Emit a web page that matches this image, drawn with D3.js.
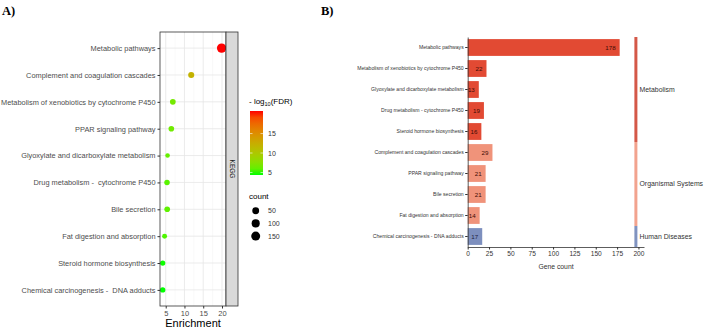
<!DOCTYPE html>
<html>
<head>
<meta charset="utf-8">
<script src="https://cdn.jsdelivr.net/npm/d3@7"></script>
<style>
  body { margin: 0; background: #fff; }
  svg { font-family: "Liberation Sans", Arial, sans-serif; }
  text { white-space: pre; }
</style>
</head>
<body>
<svg id="chart" width="709" height="329"></svg>
<script>
// ---- panel A data (dot plot) ----
let pathwaysA = ["Metabolic pathways", "Complement and coagulation cascades",
    "Metabolism of xenobiotics by cytochrome P450", "PPAR signaling pathway",
    "Glyoxylate and dicarboxylate metabolism", "Drug metabolism -  cytochrome P450",
    "Bile secretion", "Fat digestion and absorption", "Steroid hormone biosynthesis",
    "Chemical carcinogenesis -  DNA adducts"]
let enrichment = [19.9, 11.8, 6.9, 6.5, 5.5, 5.35, 5.4, 4.7, 4.2, 4.2]
let countA = [178, 29, 22, 21, 13, 19, 21, 14, 16, 17]
let fdr = [20.8, 12.0, 6.6, 6.4, 6.0, 5.6, 5.8, 5.3, 4.4, 4.35]
let enrichTicks = [5, 10, 15, 20]
let fdrTicks = [5, 10, 15]
let countLegend = [50, 100, 150]

// ---- panel B data (bar chart) ----
let pathwaysB = ["Metabolic pathways", "Metabolism of xenobiotics by cytochrome P450",
    "Glyoxylate and dicarboxylate metabolism", "Drug metabolism - cytochrome P450",
    "Steroid hormone biosynthesis", "Complement and coagulation cascades",
    "PPAR signaling pathway", "Bile secretion", "Fat digestion and absorption",
    "Chemical carcinogenesis - DNA adducts"]
let geneCount = [178, 22, 13, 19, 16, 29, 21, 21, 14, 17]
let classB = ["Metabolism", "Metabolism", "Metabolism", "Metabolism", "Metabolism",
    "Organismal Systems", "Organismal Systems", "Organismal Systems", "Organismal Systems",
    "Human Diseases"]
let classes = ["Metabolism", "Organismal Systems", "Human Diseases"]
let countTicks = [0, 25, 50, 75, 100, 125, 150, 175, 200]

let svg = d3.select("#chart")

function drawPanelA() {
    let data = pathwaysA.map((p, i) => ({p: p, e: enrichment[i], c: countA[i], f: fdr[i]}))
    let left = 160, right = 226, top = 32, bottom = 306

    let x = d3.scaleLinear().domain([3.48, 21.07]).range([left, right])
    let y = d3.scalePoint().domain(pathwaysA).range([top, bottom]).padding(0.6)
    let color = d3.scaleLinear().domain(d3.extent(fdr)).range(["#00ff00", "#ff0000"])
        .interpolate(d3.interpolateLab)
    let cnt = d3.scaleLinear().domain(d3.extent(countA)).range([0, 1])
    let rad = d3.scaleLinear().domain([0, 1]).range([2.3, 4.7])
    let r = v => rad(Math.sqrt(Math.max(0, cnt(v))))

    let g = svg.append("g")
    g.append("rect").attr("x", left).attr("y", top).attr("width", right - left)
        .attr("height", bottom - top).attr("fill", "#fff")

    // minor + major grid
    g.selectAll(".minor").data([7.5, 12.5, 17.5]).enter().append("line")
        .attr("x1", d => x(d)).attr("x2", d => x(d)).attr("y1", top).attr("y2", bottom)
        .attr("stroke", "#f2f2f2").attr("stroke-width", 0.5)
    g.selectAll(".vmaj").data(enrichTicks).enter().append("line")
        .attr("x1", d => x(d)).attr("x2", d => x(d)).attr("y1", top).attr("y2", bottom)
        .attr("stroke", "#e6e6e6").attr("stroke-width", 0.8)
    g.selectAll(".hmaj").data(pathwaysA).enter().append("line")
        .attr("x1", left).attr("x2", right).attr("y1", d => y(d)).attr("y2", d => y(d))
        .attr("stroke", "#e6e6e6").attr("stroke-width", 0.8)

    g.selectAll("circle.pt").data(data).enter().append("circle")
        .attr("class", "pt")
        .attr("cx", d => x(d.e)).attr("cy", d => y(d.p))
        .attr("r", d => r(d.c))
        .attr("fill", d => color(d.f))

    g.append("rect").attr("x", left).attr("y", top).attr("width", right - left)
        .attr("height", bottom - top).attr("fill", "none").attr("stroke", "#333").attr("stroke-width", 0.8)

    // strip
    g.append("rect").attr("x", right).attr("y", top).attr("width", 12)
        .attr("height", bottom - top).attr("fill", "#d9d9d9").attr("stroke", "#333").attr("stroke-width", 0.8)
    g.append("text").attr("transform", `translate(${right + 4},${(top + bottom) / 2}) rotate(90)`)
        .attr("text-anchor", "middle").attr("font-size", 6.5).attr("fill", "#1a1a1a").text("KEGG")

    // axes
    let ay = g.append("g").attr("transform", `translate(${left},0)`)
        .call(d3.axisLeft(y).tickSize(2.5).tickPadding(2))
    ay.select(".domain").remove()
    ay.selectAll("line").attr("stroke", "#333")
    ay.selectAll("text").attr("font-size", 7.4).attr("fill", "#4d4d4d")
        .attr("font-family", "Liberation Sans, Arial, sans-serif")

    let ax = g.append("g").attr("transform", `translate(0,${bottom})`)
        .call(d3.axisBottom(x).tickValues(enrichTicks).tickSize(2.5).tickPadding(2))
    ax.select(".domain").remove()
    ax.selectAll("line").attr("stroke", "#333")
    ax.selectAll("text").attr("font-size", 7.5).attr("fill", "#4d4d4d")
        .attr("font-family", "Liberation Sans, Arial, sans-serif")

    g.append("text").attr("x", (left + right) / 2).attr("y", 327).attr("text-anchor", "middle")
        .attr("font-size", 11).attr("fill", "#000").text("Enrichment")

    // colour legend
    let lg = svg.append("g")
    let t = lg.append("text").attr("x", 249).attr("y", 104).attr("font-size", 8).attr("fill", "#000")
    t.append("tspan").text("- log")
    t.append("tspan").attr("font-size", 5.5).attr("dy", 2).text("10")
    t.append("tspan").attr("dy", -2).text("(FDR)")

    let cb = d3.scaleLinear().domain(d3.extent(fdr)).range([175, 111])
    let defs = svg.append("defs")
    let grad = defs.append("linearGradient").attr("id", "fdrgrad")
        .attr("x1", 0).attr("x2", 0).attr("y1", 1).attr("y2", 0)
    d3.range(0, 1.01, 0.1).forEach(s => {
        let v = cb.domain()[0] + s * (cb.domain()[1] - cb.domain()[0])
        grad.append("stop").attr("offset", s).attr("stop-color", color(v))
    })
    lg.append("rect").attr("x", 250).attr("y", 111).attr("width", 13).attr("height", 64)
        .attr("fill", "url(#fdrgrad)")
    lg.selectAll(".cbt").data(fdrTicks).enter().append("line")
        .attr("x1", 250).attr("x2", 252.5).attr("y1", d => cb(d)).attr("y2", d => cb(d))
        .attr("stroke", "#fff").attr("stroke-width", 0.6)
    lg.selectAll(".cbt2").data(fdrTicks).enter().append("line")
        .attr("x1", 260.5).attr("x2", 263).attr("y1", d => cb(d)).attr("y2", d => cb(d))
        .attr("stroke", "#fff").attr("stroke-width", 0.6)
    lg.selectAll(".cbl").data(fdrTicks).enter().append("text")
        .attr("x", 268).attr("y", d => cb(d) + 2.5).attr("font-size", 7).attr("fill", "#333")
        .text(d => d)

    // size legend
    lg.append("text").attr("x", 249).attr("y", 199).attr("font-size", 8).attr("fill", "#000").text("count")
    lg.selectAll(".sz").data(countLegend).enter().append("circle")
        .attr("cx", 255.7).attr("cy", (d, i) => 210.7 + i * 12.7).attr("r", d => r(d)).attr("fill", "#000")
    lg.selectAll(".szl").data(countLegend).enter().append("text")
        .attr("x", 268).attr("y", (d, i) => 213.2 + i * 12.7).attr("font-size", 7).attr("fill", "#333")
        .text(d => d)
}

function drawPanelB() {
    let data = pathwaysB.map((p, i) => ({p: p, v: geneCount[i], cls: classB[i]}))
    let left = 467.7, top = 37, bottom = 247

    let x = d3.scaleLinear().domain([0, 206.5]).range([left, 644])
    let y = d3.scaleBand().domain(pathwaysB).range([top, bottom]).paddingInner(0.2).paddingOuter(0.1)
    let barColor = d3.scaleOrdinal().domain(classes).range(["#e24a33", "#f0937a", "#7d8fbe"])
    let stripColor = d3.scaleOrdinal().domain(classes).range(["#d45848", "#f2a38e", "#8093c0"])

    let g = svg.append("g")
    g.selectAll("rect.bar").data(data).enter().append("rect")
        .attr("class", "bar")
        .attr("x", x(0)).attr("y", d => y(d.p))
        .attr("width", d => x(d.v) - x(0)).attr("height", y.bandwidth())
        .attr("fill", d => barColor(d.cls))

    g.selectAll("text.val").data(data).enter().append("text")
        .attr("class", "val")
        .attr("x", d => x(d.v) - 4).attr("y", d => y(d.p) + y.bandwidth() / 2 + 2.2)
        .attr("text-anchor", "end").attr("font-size", 6.2)
        .attr("fill", d => d.cls == "Human Diseases" ? "#1d2340" : "#3d0b05")
        .text(d => d.v)

    let ay = g.append("g").attr("transform", `translate(${left},0)`)
        .call(d3.axisLeft(y).tickSize(2.5).tickPadding(1.5).tickSizeOuter(0))
    ay.select(".domain").attr("stroke", "#333").attr("stroke-width", 0.8)
    ay.selectAll("line").attr("stroke", "#333")
    ay.selectAll("text").attr("font-size", 5.1).attr("fill", "#333")
        .attr("font-family", "Liberation Sans, Arial, sans-serif")

    let ax = g.append("g").attr("transform", `translate(0,${bottom})`)
        .call(d3.axisBottom(x).tickValues(countTicks).tickSize(2.5).tickPadding(2).tickSizeOuter(0))
    ax.select(".domain").attr("stroke", "#333").attr("stroke-width", 0.8)
    ax.selectAll("line").attr("stroke", "#333")
    ax.selectAll("text").attr("font-size", 6.6).attr("fill", "#333")
        .attr("font-family", "Liberation Sans, Arial, sans-serif")

    g.append("text").attr("x", 556).attr("y", 269).attr("text-anchor", "middle")
        .attr("font-size", 6.8).attr("fill", "#333").text("Gene count")

    // class strip
    let step = y.step()
    classes.forEach(c => {
        let rows = data.filter(d => d.cls == c)
        let y0 = y(rows[0].p) - step * 0.1
        let y1 = y(rows[rows.length - 1].p) + y.bandwidth() + step * 0.1
        g.append("rect").attr("x", x(197) - 1.5).attr("y", y0).attr("width", 3).attr("height", y1 - y0)
            .attr("fill", stripColor(c))
        g.append("text").attr("x", 639.5).attr("y", (y0 + y1) / 2 + 2.4)
            .attr("font-size", 6.9).attr("fill", "#333").text(c)
    })
}

function drawLabels() {
    svg.append("text").attr("x", 2).attr("y", 15).attr("font-family", "Liberation Serif, Times New Roman, serif")
        .attr("font-weight", "bold").attr("font-size", 12.5).text("A)")
    svg.append("text").attr("x", 321).attr("y", 15).attr("font-family", "Liberation Serif, Times New Roman, serif")
        .attr("font-weight", "bold").attr("font-size", 12.5).text("B)")
}

drawPanelA()
drawPanelB()
drawLabels()
</script>
</body>
</html>
